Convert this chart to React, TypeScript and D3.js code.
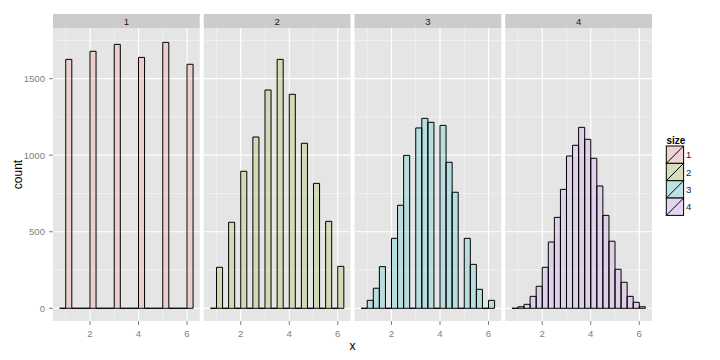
import React from "react";
import * as d3 from "d3";

// ---- data ----
const sizes = ["1", "2", "3", "4"];
const sizeColors = ["#F8766D", "#7CAE00", "#00BFC4", "#C77CFF"];

const means1 = [1, 2, 3, 4, 5, 6];
const counts1 = [1626, 1679, 1724, 1639, 1737, 1594];

const means2 = [1, 1.5, 2, 2.5, 3, 3.5, 4, 4.5, 5, 5.5, 6];
const counts2 = [268, 562, 895, 1119, 1426, 1626, 1398, 1078, 816, 568, 274];

const means3 = [1, 4 / 3, 5 / 3, 2, 7 / 3, 8 / 3, 3, 10 / 3, 11 / 3, 4, 13 / 3, 14 / 3, 5, 16 / 3, 17 / 3, 6];
const counts3 = [52, 131, 272, 457, 673, 999, 1178, 1241, 1215, 1195, 954, 758, 457, 287, 124, 52];

const means4 = [1, 1.25, 1.5, 1.75, 2, 2.25, 2.5, 2.75, 3, 3.25, 3.5, 3.75, 4, 4.25, 4.5, 4.75, 5, 5.25, 5.5, 5.75, 6];
const counts4 = [10, 26, 78, 144, 268, 433, 594, 777, 995, 1065, 1182, 1104, 980, 799, 607, 438, 255, 170, 78, 39, 10];

const xTicks = [2, 4, 6];
const xMinor = [1, 3, 5];
const yTicks = [0, 500, 1000, 1500];
const yMinor = [250, 750, 1250, 1750];

const binStart = 0.75;
const binWidth = 0.25;
const binCount = 22;

const panelsData = [
  { means: means1, counts: counts1 },
  { means: means2, counts: counts2 },
  { means: means3, counts: counts3 },
  { means: means4, counts: counts4 },
];

function binned(means: number[], counts: number[]) {
  const arr = d3.range(binCount).map((i) => ({ x0: binStart + i * binWidth, x1: binStart + (i + 1) * binWidth, n: 0 }));
  means.forEach((m, i) => {
    const idx = Math.floor((m - binStart) / binWidth + 1e-9);
    if (idx >= 0 && idx < binCount) arr[idx].n += counts[i];
  });
  return arr;
}

const FONT = "'Liberation Sans', Arial, sans-serif";

export default function App() {
  const W = 720, H = 360;
  const left = 53, right = 652, gap = 4;
  const pw = (right - left - gap * 3) / 4;
  const top = 28, bottom = 321;
  const stripTop = 14;

  const y = d3.scaleLinear().domain([-83, 1831]).range([bottom, top]);

  const panels = panelsData.map((p, i) => {
    const x0 = left + i * (pw + gap);
    const x = d3.scaleLinear().domain([0.475, 6.525]).range([x0, x0 + pw]);
    const bins = binned(p.means, p.counts);
    const fill = d3.color(sizeColors[i])!;
    return (
      <g key={i}>
        <rect x={x0} y={top} width={pw} height={bottom - top} fill="#E5E5E5" />
        {yMinor.map((v) => (
          <line key={"ym" + v} x1={x0} x2={x0 + pw} y1={y(v)} y2={y(v)} stroke="#F2F2F2" strokeWidth={0.8} />
        ))}
        {xMinor.map((v) => (
          <line key={"xm" + v} x1={x(v)} x2={x(v)} y1={top} y2={bottom} stroke="#F2F2F2" strokeWidth={0.8} />
        ))}
        {yTicks.map((v) => (
          <line key={"y" + v} x1={x0} x2={x0 + pw} y1={y(v)} y2={y(v)} stroke="#FFFFFF" strokeWidth={1.2} />
        ))}
        {xTicks.map((v) => (
          <line key={"x" + v} x1={x(v)} x2={x(v)} y1={top} y2={bottom} stroke="#FFFFFF" strokeWidth={1.2} />
        ))}
        {bins.map((b, j) => {
          const xa = x(b.x0), xb = x(b.x1), y0 = y(0), y1 = y(b.n);
          return (
            <path
              key={j}
              d={`M${xa},${y0}V${y1}H${xb}V${y0}Z`}
              fill={fill.formatHex()}
              fillOpacity={0.2}
              stroke="#000"
              strokeWidth={1}
            />
          );
        })}
        <rect x={x0} y={stripTop} width={pw} height={top - stripTop} fill="#CCCCCC" />
        <text x={x0 + pw / 2} y={(stripTop + top) / 2} textAnchor="middle" dominantBaseline="central" fontSize={9.6} fill="#1A1A1A" fontFamily={FONT}>
          {sizes[i]}
        </text>
        {xTicks.map((v) => (
          <g key={"xt" + v}>
            <line x1={x(v)} x2={x(v)} y1={bottom} y2={bottom + 4} stroke="#7F7F7F" strokeWidth={1} />
            <text x={x(v)} y={bottom + 12.5} textAnchor="middle" dominantBaseline="central" fontSize={9.6} fill="#7F7F7F" fontFamily={FONT}>
              {v}
            </text>
          </g>
        ))}
      </g>
    );
  });

  const keyX = 666.3, keyW = 17.3, keyY0 = 146, keyH = 17.35;

  return (
    <svg width={W} height={H} style={{ position: "absolute", left: 0, top: 0, background: "#fff" }} fontFamily={FONT}>
      <rect width={W} height={H} fill="#fff" />
      {panels}
      {yTicks.map((v) => (
        <g key={"yt" + v}>
          <line x1={left - 4} x2={left} y1={y(v)} y2={y(v)} stroke="#7F7F7F" strokeWidth={1} />
          <text x={45} y={y(v)} textAnchor="end" dominantBaseline="central" fontSize={9.6} fill="#7F7F7F">
            {v}
          </text>
        </g>
      ))}
      <text transform={`translate(17.5,${(top + bottom) / 2}) rotate(-90)`} textAnchor="middle" dominantBaseline="central" fontSize={12} fill="#000">
        count
      </text>
      <text x={(left + right) / 2} y={346} textAnchor="middle" dominantBaseline="central" fontSize={12} fill="#000">
        x
      </text>
      <text x={666.5} y={140} dominantBaseline="central" fontSize={10} fontWeight="bold" fill="#000">
        size
      </text>
      {sizes.map((s, i) => {
        const ky = keyY0 + i * keyH;
        return (
          <g key={"k" + s}>
            <rect x={keyX} y={ky} width={keyW} height={keyH} fill="#EBEBEB" />
            <rect x={keyX} y={ky} width={keyW} height={keyH} fill={sizeColors[i]} fillOpacity={0.2} stroke="#000" strokeWidth={1} />
            <line x1={keyX} y1={ky + keyH} x2={keyX + keyW} y2={ky} stroke="#000" strokeWidth={1} />
            <text x={686} y={ky + keyH / 2} dominantBaseline="central" fontSize={9.6} fill="#1A1A1A">
              {s}
            </text>
          </g>
        );
      })}
    </svg>
  );
}
